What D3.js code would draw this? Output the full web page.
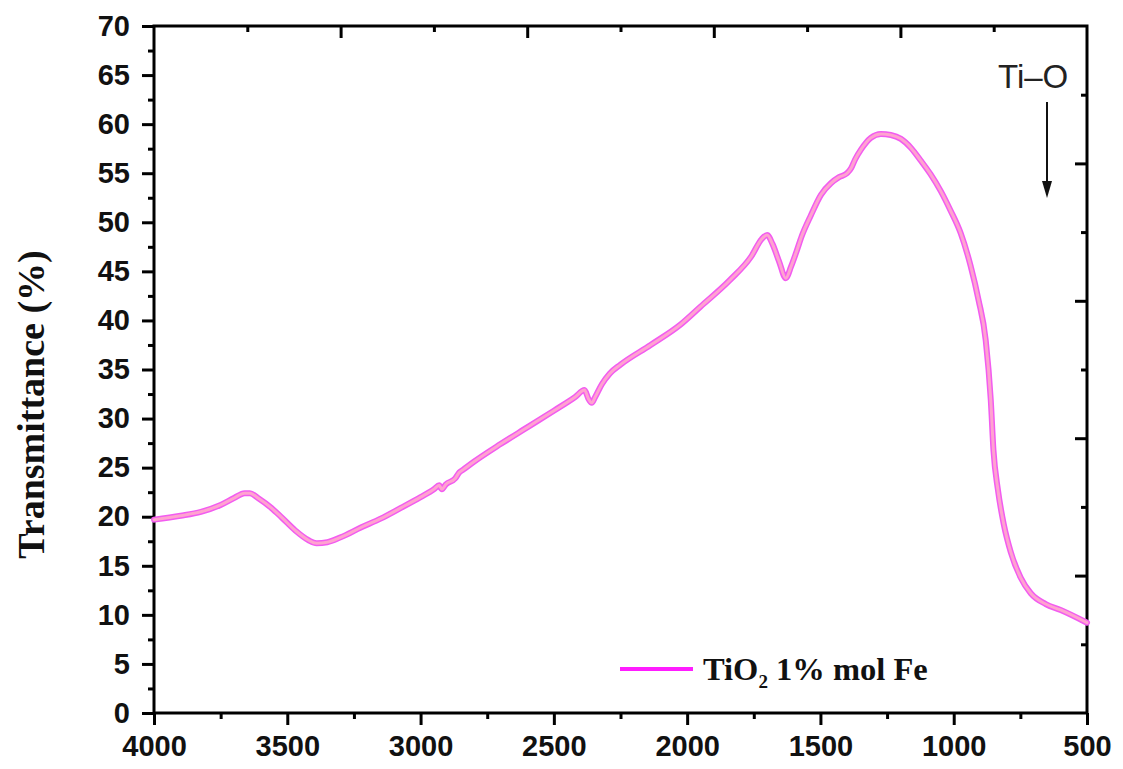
<!DOCTYPE html>
<html>
<head>
<meta charset="utf-8">
<script src="https://cdn.jsdelivr.net/npm/d3@7"></script>
<style>
  html, body { margin: 0; padding: 0; background: #fff; }
  svg { display: block; }
</style>
</head>
<body>
<svg id="chart" width="1123" height="769"></svg>
<script>
// FTIR spectrum of Fe-doped TiO2: wavenumber (cm^-1) vs transmittance (%)
const wavenumber = [4000, 3900, 3824, 3750, 3700, 3660, 3640, 3610, 3560, 3520, 3470, 3420, 3390, 3350, 3300,
  3224, 3150, 3074, 3000, 2950, 2930, 2920, 2905, 2870, 2855, 2840, 2800, 2700, 2600, 2500,
  2420, 2385, 2370, 2358, 2345, 2320, 2290, 2250, 2137, 2024, 1950, 1840, 1760, 1720, 1700,
  1680, 1655, 1630, 1610, 1590, 1570, 1536, 1498, 1460, 1430, 1400, 1385, 1370, 1348, 1311,
  1273, 1236, 1198, 1161, 1124, 1087, 1049, 1012, 974, 937, 907, 880, 861, 851, 834,
  812, 786, 749, 711, 655, 599, 500];
const transmittance = [19.7, 20.1, 20.5, 21.2, 21.9, 22.4, 22.4, 21.9, 20.9, 19.9, 18.6, 17.6, 17.3, 17.4, 17.9,
  18.9, 19.8, 20.9, 22.0, 22.8, 23.2, 22.8, 23.3, 23.9, 24.5, 24.8, 25.6, 27.4, 29.1, 30.8,
  32.2, 32.9, 32.0, 31.6, 32.2, 33.5, 34.6, 35.5, 37.5, 39.6, 41.4, 44.1, 46.5, 48.3, 48.7,
  47.8, 46.0, 44.3, 45.5, 47.0, 48.6, 50.7, 52.8, 54.0, 54.6, 55.0, 55.5, 56.4, 57.4, 58.6,
  59.0, 58.9, 58.5, 57.6, 56.3, 54.9, 53.2, 51.2, 48.9, 45.6, 42.1, 38.0, 31.9, 26.8, 22.7,
  19.2, 16.4, 13.8, 12.2, 11.1, 10.5, 9.2];

const xMajorTicks = [4000, 3500, 3000, 2500, 2000, 1500, 1000, 500];
const yMajorTicks = [0, 5, 10, 15, 20, 25, 30, 35, 40, 45, 50, 55, 60, 65, 70];
const bandLabel = "Ti–O";
const bandPosition = 650; // wavenumber of the Ti–O marker arrow

const svg = d3.select("#chart");
const L = 154, R = 1087, T = 26, B = 713;

const x = d3.scaleLinear().domain([4000, 500]).range([L, R]);
const y = d3.scaleLinear().domain([0, 70]).range([B, T]);
// frame ticks on the top and right edges
const xTop = d3.scaleLinear().domain([0, 5]).range([L, R]);
const yRight = d3.scaleLinear().domain([0, 5]).range([B, T]);

const axisFont = "'Liberation Sans', Arial, sans-serif";
const serifFont = "'Liberation Serif', 'Times New Roman', serif";

function styleAxis(g) {
  g.select(".domain").remove();
  g.selectAll(".tick line").attr("stroke", "#000").attr("stroke-width", 3);
}

// minor ticks
const xMinor = d3.range(4000, 499, -250).filter(v => !xMajorTicks.includes(v));
const yMinor = d3.range(0, 70.1, 2.5).filter(v => !yMajorTicks.includes(v));

svg.append("g").attr("transform", `translate(0,${B})`)
  .call(d3.axisBottom(x).tickValues(xMinor).tickSize(6).tickFormat(""))
  .call(styleAxis);
svg.append("g").attr("transform", `translate(0,${B})`)
  .call(d3.axisBottom(x).tickValues(xMajorTicks).tickSize(12).tickPadding(10).tickFormat(d3.format("d")))
  .call(styleAxis)
  .call(g => g.selectAll("text").attr("font-family", axisFont).attr("font-weight", "bold")
    .attr("font-size", 29).attr("fill", "#111").attr("dy", "0.71em"));

svg.append("g").attr("transform", `translate(${L},0)`)
  .call(d3.axisLeft(y).tickValues(yMinor).tickSize(6).tickFormat(""))
  .call(styleAxis);
svg.append("g").attr("transform", `translate(${L},0)`)
  .call(d3.axisLeft(y).tickValues(yMajorTicks).tickSize(12).tickPadding(12).tickFormat(d3.format("d")))
  .call(styleAxis)
  .call(g => g.selectAll("text").attr("font-family", axisFont).attr("font-weight", "bold")
    .attr("font-size", 29).attr("fill", "#111"));

// inward ticks on top and right edges
svg.append("g").attr("transform", `translate(0,${T})`)
  .call(d3.axisBottom(xTop).tickValues(d3.range(0.5, 5, 1)).tickSize(6).tickFormat(""))
  .call(styleAxis);
svg.append("g").attr("transform", `translate(0,${T})`)
  .call(d3.axisBottom(xTop).tickValues([1, 2, 3, 4]).tickSize(12).tickFormat(""))
  .call(styleAxis);
svg.append("g").attr("transform", `translate(${R},0)`)
  .call(d3.axisLeft(yRight).tickValues(d3.range(0.5, 5, 1)).tickSize(6).tickFormat(""))
  .call(styleAxis);
svg.append("g").attr("transform", `translate(${R},0)`)
  .call(d3.axisLeft(yRight).tickValues([1, 2, 3, 4]).tickSize(12).tickFormat(""))
  .call(styleAxis);

// frame
svg.append("rect").attr("x", L).attr("y", T).attr("width", R - L).attr("height", B - T)
  .attr("fill", "none").attr("stroke", "#000").attr("stroke-width", 3);

// spectrum
const data = wavenumber.map((w, i) => ({ w, t: transmittance[i] }));
const line = d3.line().x(d => x(d.w)).y(d => y(d.t)).curve(d3.curveMonotoneX);
svg.append("path").datum(data).attr("d", line)
  .attr("fill", "none").attr("stroke", "#f25cf0").attr("stroke-width", 6)
  .attr("stroke-linejoin", "round").attr("stroke-linecap", "round");
svg.append("path").datum(data).attr("d", line)
  .attr("fill", "none").attr("stroke", "#ffa3cf").attr("stroke-width", 3)
  .attr("stroke-linejoin", "round").attr("stroke-linecap", "round");

// y axis title
svg.append("text")
  .attr("transform", `translate(44,${(T + B) / 2 + 35}) rotate(-90)`)
  .attr("text-anchor", "middle")
  .attr("font-family", serifFont).attr("font-weight", "bold").attr("font-size", 38)
  .attr("fill", "#111")
  .text("Transmittance (%)");

// legend
svg.append("line").attr("x1", 620).attr("x2", 693).attr("y1", 669).attr("y2", 669)
  .attr("stroke", "#ff1dff").attr("stroke-width", 4);
const leg = svg.append("text").attr("x", 703).attr("y", 680)
  .attr("font-family", serifFont).attr("font-weight", "bold").attr("font-size", 32.5).attr("fill", "#111");
leg.append("tspan").text("TiO");
leg.append("tspan").attr("font-size", 19).attr("dy", 8).text("2");
leg.append("tspan").attr("dy", -8).text(" 1% mol Fe");

// Ti–O band marker
const ax = x(bandPosition);
svg.append("text").attr("x", 998).attr("y", 88)
  .attr("font-family", axisFont).attr("font-size", 33).attr("fill", "#222")
  .text(bandLabel);
svg.append("line").attr("x1", ax).attr("x2", ax).attr("y1", 102).attr("y2", 184)
  .attr("stroke", "#111").attr("stroke-width", 2);
svg.append("path")
  .attr("d", `M${ax - 5},${181} L${ax + 5},${181} L${ax},${198} Z`)
  .attr("fill", "#111");
</script>
</body>
</html>
